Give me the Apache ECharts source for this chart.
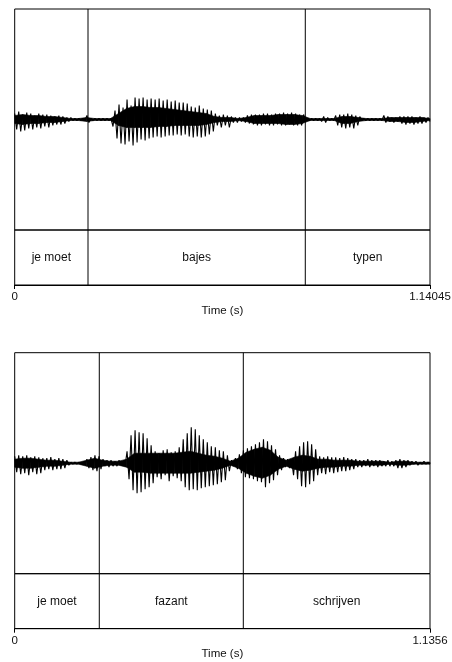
<!DOCTYPE html>
<html>
<head>
<meta charset="utf-8">
<script src="https://cdn.jsdelivr.net/npm/echarts@6/dist/echarts.min.js"></script>
<style>
  html, body { margin: 0; padding: 0; background: #fff; }
  #chart { width: 452px; height: 662px; }
</style>
</head>
<body>
<div id="chart"></div>
<script>
// Utterance 1: "je moet bajes typen"
const durationA = 1.14045;
const wordsA = ['je moet', 'bajes', 'typen'];
const boundsA = [0, 0.2013, 0.798, 1.14045];
// Waveform peaks, evenly spaced over the utterance (amplitude, arbitrary units)
const waveA = [
  6, -10, 8, -12, 5, -11, 7, -9,
  6, -10, 4, -8, 6, -9, 5, -7, 5, -8,
  4, -6, 3, -5, 4, -5, 3, -4,
  2, -2, 2, -1, 1, -1, 1, -1, 1, -1,
  4, -3,
  1, -1, 1, -1, 1, -1, 1, -1, 1, -1, 1,
  -7, 9, -19, 15, -24, 12, -25, 20, -22, 14, -26, 22,
  -23, 21, -20, 22, -21, 20, -19, 21,
  -18, 20, -17, 21, -18, 19, -17, 20, -16,
  18, -16, 19, -15, 17, -16, 17, -15, 16, -17,
  13, -18, 12, -17, 14, -18, 11, -17,
  10, -15, 9, -12, 6,
  -6, 4, -8, 5, -6, 4, -8,
  3, -3, 2, -3, 2, -2, 2,
  -3, 4, -4, 5, -5, 5, -6, 5, -6, 6, -5, 6, -6, 5, -6, 6, -5, 6, -6, 7,
  -6, 6, -5, 7, -6, 6, -6, 5, -6, 5,
  -1, 1, -1, 1, -1, 1, -1, 1,
  -2, 3, -3, 2,
  -1, 1, -1,
  4, -6, 5, -8, 5, -9, 6, -8, 5, -9, 4, -6, 3,
  -1, 1, -1, 1, -1, 1, -1, 1, -1, 1, -1,
  4, -3, 3, -2, 2, -3, 2, -2, 3, -4, 3, -5, 3, -4, 3, -5, 2, -4, 3, -4,
  2, -3, 2, -2
];
// Dense core of the signal (upper / lower edge), evenly spaced over the utterance
const coreUpA = [4, 5, 4, 4, 3, 3, 2, 1, 1, 2, 1, 1, 1, 6, 11, 13, 13, 12, 12, 11, 10, 9, 8, 7, 6, 3,
                 2, 2, 1, 2, 4, 4, 4, 5, 5, 5, 4, 1, 1, 1, 1, 3, 3, 2, 1, 1, 1, 2, 2, 2, 2, 2, 1];
const coreLoA = [-4, -5, -4, -4, -3, -3, -2, -1, -1, -2, -1, -1, -1, -6, -8, -8, -8, -8, -7, -7, -6, -6, -6, -6, -5, -3,
                 -2, -2, -1, -2, -4, -4, -4, -4, -5, -5, -4, -1, -1, -1, -1, -4, -4, -2, -1, -1, -1, -2, -2, -3, -3, -2, -1];

// Utterance 2: "je moet fazant schrijven"
const durationB = 1.1356;
const wordsB = ['je moet', 'fazant', 'schrijven'];
const boundsB = [0, 0.2313, 0.6251, 1.1356];
const waveB = [
  7, -9, 8, -11, 7, -10, 8, -12, 6, -9, 7, -11, 6, -10,
  5, -7, 5, -6, 6, -7, 4, -6, 5, -6, 4, -5, 3,
  -2, 1, -1, 1, -1, 1, -1, 1, -1,
  4, -5, 6, -7, 8, -8, 7, -6,
  4, -3, 3, -4, 3, -3, 2, -3, 3, -2, 2, -3,
  12, -16, 28, -27, 33, -30, 31, -29, 30, -26, 25, -24, 18,
  -20, 12, -14, 10, -16, 13, -12, 14, -18, 11, -13, 12, -15, 16,
  -18, 24, -24, 30, -27, 36, -26, 34, -27, 28, -25, 24, -24, 21, -23, 17,
  -22, 16, -21, 13, -19, 12, -17, 8, -8,
  3, -3,
  5, -6, 9, -10, 13, -14, 15, -15, 17, -16, 19, -18, 21, -19, 24, -24,
  22, -20, 18, -17, 14, -12, 8, -7,
  5, -4, 4, -5, 3,
  -12, 12, -16, 17, -23, 21, -24, 22, -21, 19, -18, 14,
  -12, 7, -10, 6, -11, 7, -9, 6, -10, 6, -9, 5, -8, 6, -8, 5, -7, 4, -6, 4,
  -4, 3, -4, 3, -3, 4, -4, 3, -3, 3, -4, 3, -3, 2, -3, 3, -3, 2, -3, 3,
  -5, 4, -5, 3, -4, 3,
  -2, 2, -1, 2, -2, 1, -1, 2, -1, 1, -1
];
const coreUpB = [4, 5, 5, 4, 3, 3, 2, 1, 1, 3, 5, 3, 2, 2, 4, 10, 10, 10, 10, 10, 10, 11, 12, 10, 8, 7,
                 5, 2, 5, 11, 14, 16, 13, 6, 3, 6, 8, 7, 4, 4, 3, 3, 3, 2, 2, 2, 2, 1, 2, 2, 1, 1, 1];
const coreLoB = [-4, -5, -5, -4, -3, -3, -2, -1, -1, -3, -5, -3, -2, -2, -4, -9, -9, -10, -10, -10, -10, -10, -10, -9, -8, -7,
                 -5, -2, -5, -10, -13, -15, -12, -6, -3, -6, -8, -7, -5, -4, -4, -3, -3, -2, -2, -2, -2, -1, -2, -2, -1, -1, -1];

const AMP = 110.5;          // half-height of the waveform scale
const FONT = 'Liberation Sans, Arial, Helvetica, sans-serif';

const panels = [
  { dur: durationA, words: wordsA, bounds: boundsA, wave: waveA, up: coreUpA, lo: coreLoA, top: 9 },
  { dur: durationB, words: wordsB, bounds: boundsB, wave: waveB, up: coreUpB, lo: coreLoB, top: 352.7 }
];

const grid = [], xAxis = [], yAxis = [], series = [];

panels.forEach((p, k) => {
  const gw = 2 * k, gt = 2 * k + 1;
  const waveH = 221, tierH = 55;
  const box = { left: 14.7, width: 415.3, show: true, borderColor: '#000', borderWidth: 1,
                backgroundColor: 'transparent', containLabel: false, outerBoundsMode: 'none' };
  grid.push(Object.assign({ top: p.top, height: waveH }, box));
  grid.push(Object.assign({ top: p.top + waveH, height: tierH }, box));

  xAxis.push({ type: 'value', gridIndex: gw, min: 0, max: p.dur, show: false });
  xAxis.push({
    type: 'value', gridIndex: gt, min: 0, max: p.dur, interval: p.dur,
    axisLine: { show: true, lineStyle: { color: '#000', width: 1 } },
    axisTick: { show: true, length: 4, lineStyle: { color: '#000' } },
    splitLine: { show: false },
    axisLabel: {
      show: true, margin: 6, color: '#111', fontFamily: FONT, fontSize: 11.5,
      formatter: v => (v < p.dur / 2 ? '0' : String(p.dur))
    },
    name: 'Time (s)', nameLocation: 'middle', nameGap: 19.5,
    nameTextStyle: { color: '#111', fontFamily: FONT, fontSize: 11.5 }
  });
  yAxis.push({ type: 'value', gridIndex: gw, min: -AMP, max: AMP, show: false });
  yAxis.push({ type: 'value', gridIndex: gt, min: 0, max: 1, show: false });

  // solid core of the waveform
  const n = p.up.length;
  const tc = j => j * p.dur / (n - 1);
  series.push({
    type: 'custom', xAxisIndex: gw, yAxisIndex: gw, silent: true, animation: false,
    data: p.up.slice(0, -1).map((u, j) => [tc(j), u, p.lo[j], tc(j + 1), p.up[j + 1], p.lo[j + 1]]),
    renderItem: (params, api) => {
      const pts = [
        api.coord([api.value(0), api.value(1)]),
        api.coord([api.value(3), api.value(4)]),
        api.coord([api.value(3), api.value(5)]),
        api.coord([api.value(0), api.value(2)])
      ];
      return { type: 'polygon', shape: { points: pts },
               style: { fill: '#000', stroke: '#000', lineWidth: 0.6 } };
    }
  });

  // waveform
  series.push({
    type: 'line', xAxisIndex: gw, yAxisIndex: gw,
    data: p.wave.map((v, i) => [i * p.dur / (p.wave.length - 1), v]),
    showSymbol: false, symbol: 'none', silent: true, animation: false,
    lineStyle: { color: '#000', width: 1.1 }
  });

  const inner = p.bounds.slice(1, -1).map(t => [t]);
  // interval boundaries through the waveform area
  series.push({
    type: 'custom', xAxisIndex: gw, yAxisIndex: gw, data: inner, silent: true, animation: false,
    renderItem: (params, api) => {
      const a = api.coord([api.value(0), AMP]);
      const b = api.coord([api.value(0), -AMP]);
      return { type: 'line', shape: { x1: a[0], y1: a[1], x2: b[0], y2: b[1] },
               style: { stroke: '#000', lineWidth: 1 } };
    }
  });
  // interval boundaries through the word tier
  series.push({
    type: 'custom', xAxisIndex: gt, yAxisIndex: gt, data: inner, silent: true, animation: false,
    renderItem: (params, api) => {
      const a = api.coord([api.value(0), 1]);
      const b = api.coord([api.value(0), 0]);
      return { type: 'line', shape: { x1: a[0], y1: a[1], x2: b[0], y2: b[1] },
               style: { stroke: '#000', lineWidth: 1 } };
    }
  });
  // word labels centred in their intervals
  series.push({
    type: 'custom', xAxisIndex: gt, yAxisIndex: gt, silent: true, animation: false,
    data: p.words.map((w, i) => ({ value: [(p.bounds[i] + p.bounds[i + 1]) / 2, 0.5], name: w })),
    renderItem: (params, api) => {
      const c = api.coord([api.value(0), api.value(1)]);
      return { type: 'text', x: c[0], y: c[1],
               style: { text: p.words[params.dataIndex], fill: '#111', font: '12px ' + FONT,
                        align: 'center', verticalAlign: 'middle' } };
    }
  });
});

const chart = echarts.init(document.getElementById('chart'), null, { renderer: 'canvas' });
chart.setOption({ animation: false, grid, xAxis, yAxis, series });
</script>
</body>
</html>
